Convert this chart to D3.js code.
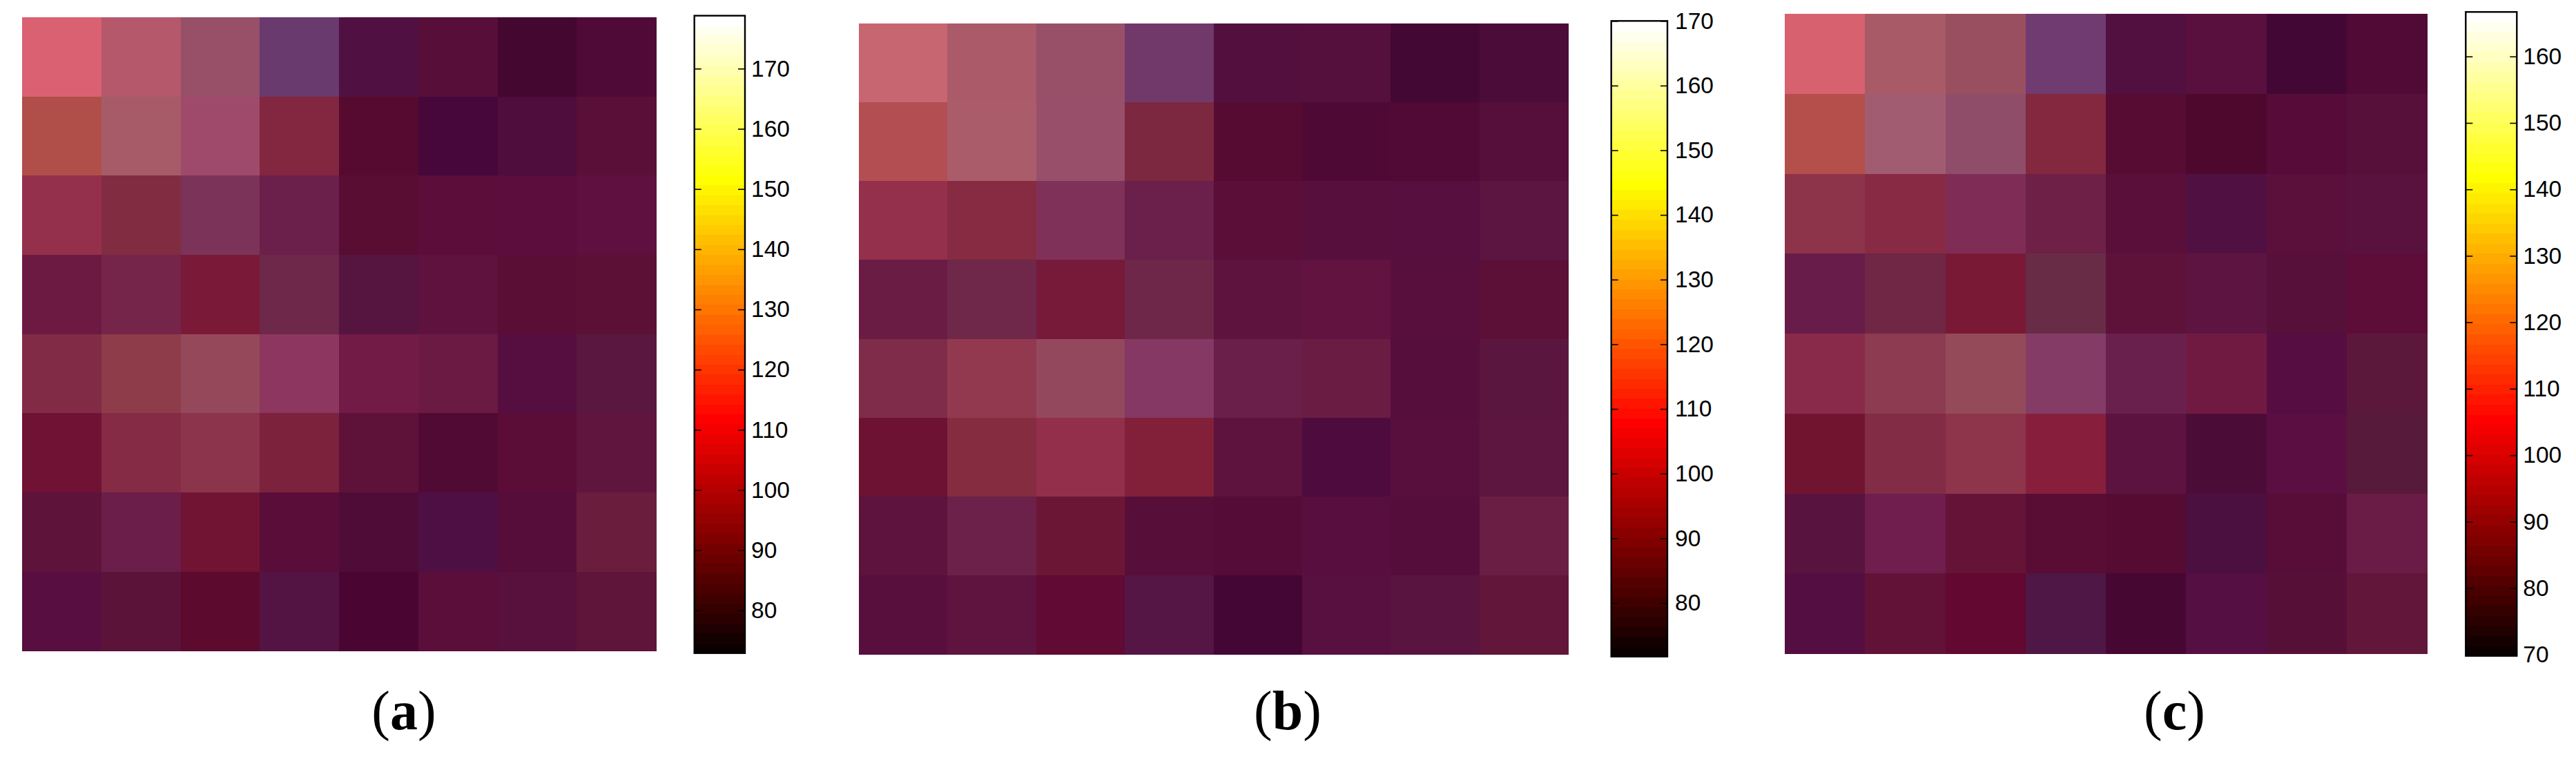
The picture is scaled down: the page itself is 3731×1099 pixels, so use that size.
<!DOCTYPE html>
<html>
<head>
<meta charset="utf-8">
<script src="https://cdn.jsdelivr.net/npm/d3@7"></script>
<style>
  html, body { margin: 0; padding: 0; background: #fff; }
  svg { display: block; }
  .cbar text { font-family: "Liberation Sans", Arial, sans-serif; font-size: 33.5px; fill: #000; }
  .cbar .domain { display: none; }
  .cbar .tick line { stroke: #000; stroke-width: 1.6; }
  .caption { font-family: "Liberation Serif", serif; font-size: 80px; fill: #000; }
</style>
</head>
<body>
<div id="container"></div>
<script>
// The cells do not sit on the colour bar (they carry a purple cast), so the picture's
// cell colours are read directly, row by row.
const cellsA = [
  ['#da6172', '#b5586b', '#985068', '#683a6e', '#501142', '#570f3a', '#44072f', '#4f0a38'],
  ['#b04f49', '#a75b68', '#9f4a6b', '#832640', '#560a2f', '#47073a', '#4e0d3c', '#590f38'],
  ['#94304c', '#822c42', '#7c3359', '#6a204a', '#5a0d33', '#5c0d3a', '#5c0d3d', '#5f1040'],
  ['#6c1a41', '#75244a', '#7b1a38', '#6e2849', '#561441', '#60123f', '#5a0e36', '#5c1035'],
  ['#822b46', '#8e3b4a', '#96485b', '#8d3660', '#711b46', '#6b1a43', '#560e40', '#5a1840'],
  ['#701233', '#852b45', '#8b344c', '#7d223d', '#5e123a', '#500a34', '#5b0d38', '#60153f'],
  ['#5e133a', '#6c1e4a', '#711434', '#5a0d39', '#4f0c36', '#4e1044', '#570d39', '#6b1d3d'],
  ['#580e40', '#5b1339', '#5c0a2e', '#541443', '#4a0532', '#5c0e3a', '#58103c', '#5f1539']
];
const cellsB = [
  ['#c76670', '#ab5a6a', '#985069', '#70396a', '#53103f', '#55103e', '#430833', '#4c0c3a'],
  ['#b34e53', '#aa5c6b', '#984f69', '#7c2840', '#560c32', '#4e0a35', '#500a35', '#550f3a'],
  ['#94304c', '#862b41', '#7f315a', '#6a204b', '#5a0e38', '#570f3d', '#560f3e', '#5b1540'],
  ['#6a1c44', '#6f274a', '#771a39', '#6e2649', '#5e123e', '#62133f', '#590f3d', '#5c1038'],
  ['#7f2c4a', '#93394f', '#93485e', '#843863', '#6a1f4b', '#6a1c43', '#560e3d', '#5b1640'],
  ['#6e1233', '#862c40', '#942f4b', '#822039', '#5e123e', '#4e0c3e', '#590f3d', '#5d1640'],
  ['#5e133e', '#6b2149', '#6c1636', '#570f3a', '#550c36', '#580f40', '#550e3c', '#6b1e44'],
  ['#590f3e', '#5f1440', '#600a34', '#551545', '#440735', '#581040', '#591440', '#621639']
];
const cellsC = [
  ['#d86170', '#a85b66', '#9a4f60', '#6f3b70', '#521040', '#59103f', '#430735', '#500a35'],
  ['#b44f4c', '#a25c71', '#8f4d69', '#83283f', '#570c33', '#4e082e', '#570b38', '#56103a'],
  ['#8d334a', '#882a44', '#7f2d57', '#6e2047', '#5a0e3a', '#501142', '#5b0f3b', '#59123e'],
  ['#681c4a', '#702645', '#791936', '#682c47', '#5e123a', '#5e1440', '#561039', '#5e0d39'],
  ['#892a4a', '#8c3b50', '#944a59', '#843c67', '#6a204d', '#701a42', '#560e42', '#5c183a'],
  ['#711430', '#822c46', '#8e344b', '#871f3c', '#5d1340', '#4c0c38', '#5b0e42', '#581a3a'],
  ['#58143f', '#6f1e4e', '#651437', '#5a0d34', '#560b32', '#4c1040', '#570d38', '#6b1c46'],
  ['#540e42', '#621237', '#630830', '#4e1745', '#460732', '#550f42', '#561038', '#61163a']
];

// colour bar ranges and tick labels
const rangeA = [72.9, 178.8];
const rangeB = [71.7, 170];
const rangeC = [69.8, 166.7];
const ticksA = [80, 90, 100, 110, 120, 130, 140, 150, 160, 170];
const ticksB = [80, 90, 100, 110, 120, 130, 140, 150, 160, 170];
const ticksC = [70, 80, 90, 100, 110, 120, 130, 140, 150, 160];
const captions = ['a', 'b', 'c'];

const width = 3731;
const height = 1099;
const barSteps = d3.range(64);   // the bar is a 64 step colormap

let svg = d3.select('#container').append('svg')
  .attr('width', width)
  .attr('height', height);

// MATLAB style hot colormap, step 0 is black and step 63 is white
function hotColor(i) {
  let t = (i + 1) / 64;
  let r = Math.min(1, t / (24 / 64));
  let g = Math.max(0, Math.min(1, (t - 24 / 64) / (24 / 64)));
  let b = Math.max(0, (t - 48 / 64) / (16 / 64));
  return d3.rgb(r * 255, g * 255, b * 255);
}

function drawPanel(cfg) {
  let x = d3.scaleBand().domain(d3.range(8)).range(cfg.heatX);
  let y = d3.scaleBand().domain(d3.range(8)).range(cfg.heatY);

  // heat map cells
  svg.append('g')
    .attr('shape-rendering', 'crispEdges')
    .selectAll('g')
    .data(cfg.cells)
    .enter().append('g')
      .attr('transform', (d, i) => `translate(0,${y(i)})`)
    .selectAll('rect')
    .data(d => d)
    .enter().append('rect')
      .attr('x', (d, i) => x(i))
      .attr('width', x.bandwidth() + 0.5)
      .attr('height', y.bandwidth() + 0.5)
      .attr('fill', d => d);

  // colour bar
  let barW = cfg.barX[1] - cfg.barX[0];
  let barScale = d3.scaleLinear().domain(cfg.range).range(cfg.barY);
  let stepScale = d3.scaleBand().domain(barSteps).range(cfg.barY);
  let bar = svg.append('g').attr('class', 'cbar');

  bar.append('g')
    .attr('shape-rendering', 'crispEdges')
    .selectAll('rect')
    .data(barSteps)
    .enter().append('rect')
      .attr('x', cfg.barX[0])
      .attr('y', d => stepScale(d))
      .attr('width', barW)
      .attr('height', stepScale.bandwidth() + 0.5)
      .attr('fill', d => hotColor(d));

  bar.append('rect')
    .attr('x', cfg.barX[0])
    .attr('y', cfg.barY[1])
    .attr('width', barW)
    .attr('height', cfg.barY[0] - cfg.barY[1])
    .attr('fill', 'none')
    .attr('stroke', '#000')
    .attr('stroke-width', 2.4);

  // inward ticks on both sides, labels on the right
  bar.append('g')
    .attr('transform', `translate(${cfg.barX[1]},0)`)
    .call(d3.axisRight(barScale).tickValues(cfg.ticks).tickSize(-10).tickPadding(cfg.labelGap).tickFormat(d3.format('d')));
  bar.append('g')
    .attr('transform', `translate(${cfg.barX[0]},0)`)
    .call(d3.axisLeft(barScale).tickValues(cfg.ticks).tickSize(-10).tickFormat(''));

  // caption, the letter is bold and the brackets are not
  let cap = svg.append('text')
    .attr('class', 'caption')
    .attr('x', cfg.captionX)
    .attr('y', 1056)
    .attr('text-anchor', 'middle');
  cap.append('tspan').text('(');
  cap.append('tspan').attr('font-weight', 'bold').text(cfg.caption);
  cap.append('tspan').text(')');
}

drawPanel({
  cells: cellsA, range: rangeA, ticks: ticksA, caption: captions[0],
  heatX: [32, 950], heatY: [25, 942.5],
  barX: [1005.7, 1079], barY: [945.7, 22.7],
  labelGap: 9, captionX: 585
});
drawPanel({
  cells: cellsB, range: rangeB, ticks: ticksB, caption: captions[1],
  heatX: [1244, 2271], heatY: [34, 947],
  barX: [2333.7, 2415], barY: [950.7, 30.3],
  labelGap: 11, captionX: 1865
});
drawPanel({
  cells: cellsC, range: rangeC, ticks: ticksC, caption: captions[2],
  heatX: [2585, 3515], heatY: [20, 946],
  barX: [3571.3, 3645.3], barY: [949.7, 17.3],
  labelGap: 9, captionX: 3149.5
});
</script>
</body>
</html>
